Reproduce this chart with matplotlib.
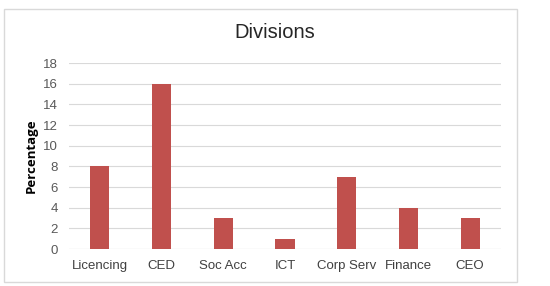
import matplotlib as mpl
mpl.use('Agg')
import matplotlib.pyplot as plt
from matplotlib.patches import Rectangle

divisions = ["Licencing", "CED", "Soc Acc", "ICT", "Corp Serv", "Finance", "CEO"]
percentage = [8, 16, 3, 1, 7, 4, 3]
y_ticks = [0, 2, 4, 6, 8, 10, 12, 14, 16, 18]

plt.rcParams['font.family'] = ['Liberation Sans', 'DejaVu Sans']

W, H = 550, 286
fig = plt.figure(figsize=(W / 100, H / 100), dpi=100)

# chart frame (Excel-style light border)
fig.patches.append(Rectangle((4 / W, 1 - 282 / H), 513 / W, 273 / H,
                             transform=fig.transFigure, fill=False,
                             edgecolor='#d9d9d9', linewidth=1.0))

ax = fig.add_axes([69 / W, 1 - 249 / H, 432 / W, 186 / H])
x = range(len(divisions))
ax.bar(x, percentage, width=0.31, color='#c0504d', zorder=3)

ax.set_xlim(-0.5, len(divisions) - 0.5)
ax.set_ylim(0, 18)
ax.set_yticks(y_ticks)
ax.set_xticks(list(x))
ax.set_xticklabels(divisions)
ax.yaxis.grid(True, color='#d9d9d9', linewidth=0.8, zorder=0)
for sp in ax.spines.values():
    sp.set_visible(False)
ax.axhline(0, color='#d9d9d9', linewidth=0.8, zorder=1)
ax.tick_params(axis='both', length=0, colors='#595959', labelsize=9.5)
ax.tick_params(axis='x', pad=8, colors='#404040')
ax.tick_params(axis='y', pad=8)

ax.set_ylabel("Percentage", fontsize=9.5, fontweight='bold', family=['Open Sans', 'DejaVu Sans'],
              labelpad=4)
fig.text(0.5, 1 - 33 / H, "Divisions", ha='center', va='center', fontsize=14.5, color='#262626')

plt.savefig("out.png", dpi=100)
